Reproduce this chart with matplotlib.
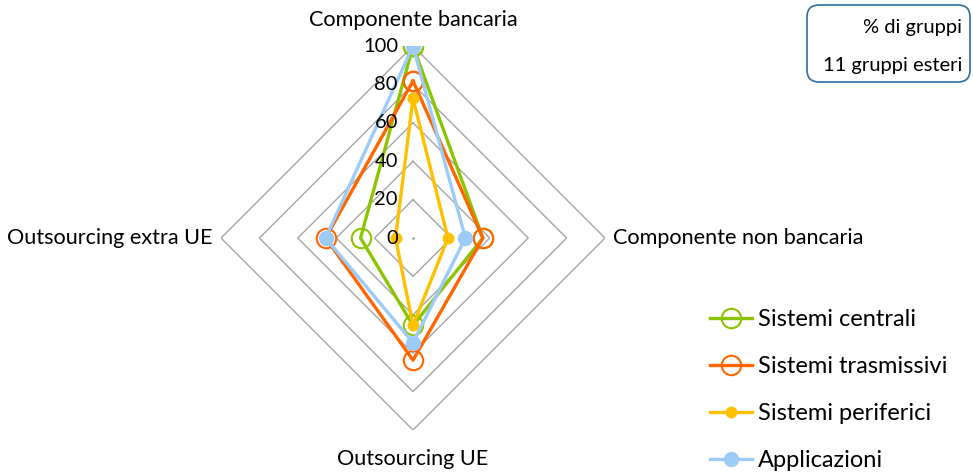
import numpy as np
import matplotlib
matplotlib.use("Agg")
import matplotlib.pyplot as plt
from matplotlib.patches import FancyBboxPatch
from matplotlib.transforms import IdentityTransform

plt.rcParams['font.family'] = ['Lato', 'DejaVu Sans']

categories = ["Componente bancaria", "Componente non bancaria", "Outsourcing UE", "Outsourcing extra UE"]
series_names = ["Sistemi centrali", "Sistemi trasmissivi", "Sistemi periferici", "Applicazioni"]
sistemi_centrali = [100.0, 36.4, 45.5, 27.3]
sistemi_trasmissivi = [81.8, 36.4, 63.6, 45.5]
sistemi_periferici = [72.7, 18.2, 45.5, 9.1]
applicazioni = [100.0, 27.3, 54.5, 45.5]
ring_ticks = [0, 20, 40, 60, 80, 100]
box_lines = ["% di gruppi", "11 gruppi esteri"]

colors = ["#8DC400", "#FF6600", "#FFC000", "#9DCBF7"]
series = [sistemi_centrali, sistemi_trasmissivi, sistemi_periferici, applicazioni]

fig = plt.figure(figsize=(9.73, 4.73), dpi=100)
ax = fig.add_axes([0.2271, 0.0909, 0.3947, 0.8118], projection='polar')
ax.set_theta_zero_location('N')
ax.set_theta_direction(-1)
ax.set_ylim(0, 100)
ax.grid(False)
ax.spines['polar'].set_visible(False)
ax.set_xticks([])
ax.set_yticks([])
ax.patch.set_alpha(0)

n = len(categories)
theta = np.arange(n) * 2 * np.pi / n
theta_c = np.append(theta, theta[0])

for r in ring_ticks[1:]:
    ax.plot(theta_c, [r] * (n + 1), color="#A6A6A6", lw=1.0, zorder=1)
ax.plot([0], [0], marker='.', color="#A6A6A6", ms=2, zorder=1)

marker_sizes = [14, 14, 7, 9.5]
hollow = [True, True, False, False]
handles = []
for name, vals, col, ms, hol in zip(series_names, series, colors, marker_sizes, hollow):
    v = list(vals) + [vals[0]]
    h, = ax.plot(theta_c, v, color=col, lw=2.4, marker='o', ms=ms,
                 mec=col, mfc='none' if hol else col, mew=1.5,
                 label=name, zorder=3)
    handles.append(h)

for r in ring_ticks:
    ax.annotate(str(r), xy=(0, r), xytext=(-15, 0), textcoords='offset pixels',
                ha='right', va='center', fontsize=14.5, color='black')

label_offsets = [(0, 26, 'center', 'center'), (8, 0, 'left', 'center'),
                 (0, -29, 'center', 'center'), (-8, 0, 'right', 'center')]
for t, cat, (dx, dy, ha, va) in zip(theta, categories, label_offsets):
    ax.annotate(cat, xy=(t, 100), xytext=(dx, dy), textcoords='offset pixels',
                ha=ha, va=va, fontsize=15.6, color='black', annotation_clip=False)

leg = fig.legend(handles=handles, loc='upper left', bbox_to_anchor=(710 / 973, 1 - 309 / 473),
                 frameon=False, fontsize=17, handlelength=1.78, handletextpad=0.25,
                 labelspacing=1.1, borderaxespad=0, borderpad=0)

box = FancyBboxPatch((807, 473 - 82), 163, 77,
                     boxstyle="round,pad=0,rounding_size=12", transform=IdentityTransform(),
                     facecolor='white', edgecolor='#2E6E9E', lw=1.2)
fig.patches.append(box)
fig.text(962 / 973, 1 - 27 / 473, box_lines[0], ha='right', va='center', fontsize=14.5)
fig.text(962 / 973, 1 - 66 / 473, box_lines[1], ha='right', va='center', fontsize=14.5)

fig.savefig("out.png", dpi=100)
